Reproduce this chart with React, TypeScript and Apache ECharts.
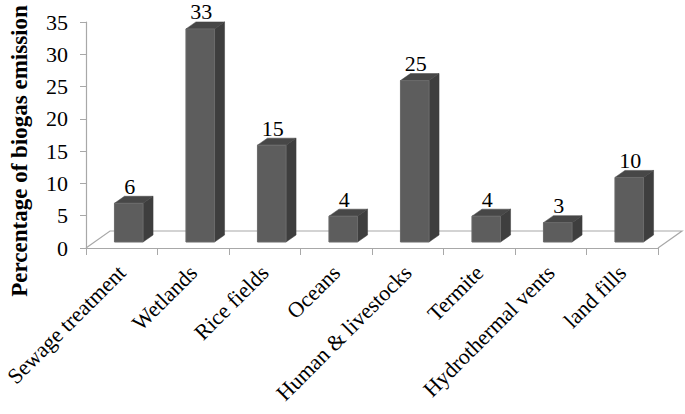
import React, { useEffect, useRef } from "react";
import * as echarts from "echarts";

const categories = [
  "Sewage treatment",
  "Wetlands",
  "Rice fields",
  "Oceans",
  "Human & livestocks",
  "Termite",
  "Hydrothermal vents",
  "land fills",
];
const values = [6, 33, 15, 4, 25, 4, 3, 10];
const yTicks = { min: 0, max: 35, interval: 5 };
const yTitle = "Percentage of biogas emission";

const FONT = "Liberation Serif";
const AXIS_GRAY = "#a8a8a8";

export default function App() {
  const ref = useRef<HTMLDivElement>(null);

  useEffect(() => {
    if (!ref.current) return;
    const chart = echarts.init(ref.current, undefined, { renderer: "svg" });

    const renderBar = (params: any, api: any) => {
      const i = api.value(0);
      const v = api.value(1);
      const base = api.coord([i, 0]);
      const top = api.coord([i, v]);
      const band = api.size([1, 0])[0];
      const bw = band * 0.4;
      const dx = 7;
      const dy = -6;
      const ddx = 10;
      const ddy = -7;
      const cx = base[0] + dx;
      const l = cx - bw / 2;
      const r = cx + bw / 2;
      const yb = base[1] + dy;
      const yt = top[1] + dy;
      return {
        type: "group",
        children: [
          {
            type: "polygon",
            shape: { points: [[r, yt], [r + ddx, yt + ddy], [r + ddx, yb + ddy], [r, yb]] },
            style: { fill: "#3e3e3e", stroke: "#3a3a3a", lineWidth: 0.5 },
          },
          {
            type: "polygon",
            shape: { points: [[l, yt], [l + ddx, yt + ddy], [r + ddx, yt + ddy], [r, yt]] },
            style: { fill: "#474747", stroke: "#444", lineWidth: 0.5 },
          },
          {
            type: "polygon",
            shape: { points: [[l, yt], [r, yt], [r, yb], [l, yb]] },
            style: { fill: "#5d5d5d", stroke: "#6a6a6a", lineWidth: 1 },
          },
          {
            type: "text",
            style: {
              x: cx + 1,
              y: yt + ddy - 10,
              text: String(v),
              fill: "#000",
              fontFamily: FONT,
              fontSize: 22,
              align: "center",
              verticalAlign: "middle",
            },
          },
        ],
      };
    };

    const renderFloor = (params: any, api: any) => {
      const cs = params.coordSys;
      const x0 = cs.x;
      const x1 = cs.x + cs.width;
      const y0 = cs.y + cs.height;
      const ddx = 24;
      const ddy = -17;
      return {
        type: "polyline",
        shape: {
          points: [
            [x0, y0],
            [x0 + ddx, y0 + ddy],
            [x1 + ddx, y0 + ddy],
            [x1, y0],
          ],
        },
        style: { stroke: AXIS_GRAY, lineWidth: 1.2, fill: "none" },
      };
    };

    chart.setOption({
      animation: false,
      backgroundColor: "#ffffff",
      grid: {
        left: 86,
        right: 27,
        top: 22,
        bottom: 166,
        containLabel: false,
        outerBoundsMode: "none",
      },
      xAxis: {
        type: "category",
        data: categories,
        boundaryGap: true,
        axisLine: { show: true, lineStyle: { color: AXIS_GRAY, width: 1.2 } },
        axisTick: { show: true, length: 7, alignWithLabel: false, lineStyle: { color: AXIS_GRAY } },
        axisLabel: {
          interval: 0,
          rotate: 45,
          margin: 21,
          color: "#000",
          fontFamily: FONT,
          fontSize: 22,
        },
        splitLine: { show: false },
      },
      yAxis: {
        type: "value",
        min: yTicks.min,
        max: yTicks.max,
        interval: yTicks.interval,
        axisLine: { show: true, lineStyle: { color: AXIS_GRAY, width: 1.2 } },
        axisTick: { show: true, length: 6, lineStyle: { color: AXIS_GRAY } },
        axisLabel: { margin: 18, color: "#000", fontFamily: FONT, fontSize: 22 },
        splitLine: { show: false },
      },
      graphic: [
        {
          type: "text",
          x: 19,
          y: 151,
          rotation: Math.PI / 2,
          style: {
            text: yTitle,
            fontFamily: FONT,
            fontWeight: "bold",
            fontSize: 23,
            fill: "#000",
            align: "center",
            verticalAlign: "middle",
          },
        },
      ],
      series: [
        {
          type: "custom",
          name: "floor",
          renderItem: renderFloor,
          data: [[0, 0]],
          z: 1,
          silent: true,
        },
        {
          type: "custom",
          name: "bars",
          renderItem: renderBar,
          encode: { x: 0, y: 1 },
          data: values.map((v, i) => [i, v]),
          z: 2,
          clip: false,
        },
      ],
    });

    return () => chart.dispose();
  }, []);

  return (
    <div
      ref={ref}
      style={{ position: "fixed", left: 0, top: 0, width: 685, height: 414, background: "#fff" }}
    />
  );
}
